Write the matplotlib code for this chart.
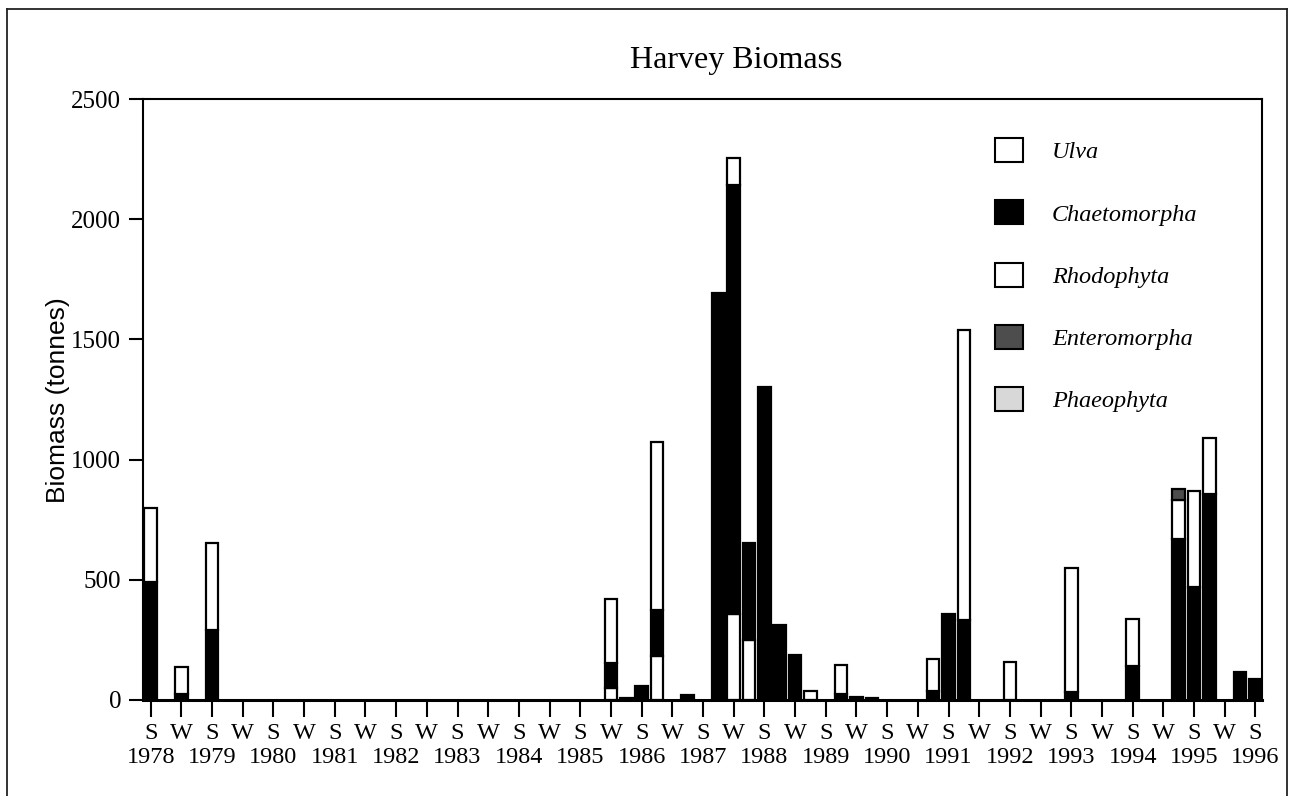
import matplotlib
matplotlib.use("Agg")
import matplotlib.pyplot as plt
from matplotlib.patches import Patch
from matplotlib.lines import Line2D
import numpy as np

# sampling times in half-year steps from summer 1978 (0 = S 1978, 1 = W 1978, ...)
sample_pos = [0, 1, 2, 15, 15.5, 16, 16.5, 17.5, 18.5, 19, 19.5, 20, 20.5, 21, 21.5,
              22.5, 23, 23.5, 25.5, 26, 26.5, 28, 30, 32, 33.5, 34, 34.5, 35.5, 36]

# biomass (tonnes) per group at each sampling time
ulva         = [0, 0, 0, 48, 0, 0, 182, 0, 0, 356, 249, 0, 0, 0, 38,
                0, 0, 0, 0, 0, 0, 155, 0, 0, 0, 0, 0, 0, 0]
chaetomorpha = [490, 22, 290, 104, 8, 58, 191, 18, 1692, 1785, 403, 1304, 311, 184, 0,
                22, 12, 5, 38, 358, 330, 0, 30, 140, 668, 470, 857, 116, 85]
rhodophyta   = [308, 116, 362, 269, 0, 0, 702, 0, 0, 114, 0, 0, 0, 0, 0,
                122, 0, 0, 132, 0, 1210, 0, 518, 194, 165, 398, 232, 0, 0]
enteromorpha = [0, 0, 0, 0, 0, 0, 0, 0, 0, 0, 0, 0, 0, 0, 0,
                0, 0, 0, 0, 0, 0, 0, 0, 0, 45, 0, 0, 0, 0]
phaeophyta   = [0, 0, 0, 0, 0, 0, 0, 0, 0, 0, 0, 0, 0, 0, 0,
                0, 0, 0, 0, 0, 0, 0, 0, 0, 0, 0, 0, 0, 0]

groups = ["Ulva", "Chaetomorpha", "Rhodophyta", "Enteromorpha", "Phaeophyta"]
series = [ulva, chaetomorpha, rhodophyta, enteromorpha, phaeophyta]
fills = ["white", "black", "white", "#4d4d4d", "#d8d8d8"]

years = list(range(1978, 1997))
yticks = [0, 500, 1000, 1500, 2000, 2500]

SERIF = "Liberation Serif"
SANS = "Liberation Sans"

fig = plt.figure(figsize=(12.91, 7.96), dpi=100)
ax = fig.add_axes([0.111, 0.121, 0.8662, 0.7543])

x = np.array(sample_pos, dtype=float)
bottom = np.zeros(len(x))
for vals, fc in zip(series, fills):
    v = np.array(vals, dtype=float)
    m = v > 0
    if m.any():
        ax.bar(x[m], v[m], width=0.41, bottom=bottom[m], color=fc,
               edgecolor="black", linewidth=1.6, zorder=2)
    bottom += v

ax.set_xlim(-0.24, 36.2)
ax.set_ylim(0, 2500)

# season ticks: S (summer) / W (winter)
nticks = 2 * (len(years) - 1) + 1
ax.set_xticks(range(nticks))
ax.set_xticklabels(["S" if i % 2 == 0 else "W" for i in range(nticks)],
                   fontfamily=SERIF, fontsize=17.5)

# year row under each summer tick
sec = ax.secondary_xaxis("bottom")
sec.set_xticks(range(0, nticks, 2))
sec.set_xticklabels([str(y) for y in years], fontfamily=SERIF, fontsize=17.5)
sec.tick_params(length=0, pad=34)
sec.spines["bottom"].set_visible(False)

ax.set_yticks(yticks)
ax.set_yticklabels([str(t) for t in yticks], fontfamily=SERIF, fontsize=18)

ax.tick_params(axis="x", direction="out", length=12, width=1.5, pad=5, colors="black")
ax.tick_params(axis="y", direction="out", length=10, width=1.5, pad=6, colors="black")

for side in ["left", "top", "right"]:
    ax.spines[side].set_linewidth(1.5)
ax.spines["bottom"].set_linewidth(2.2)
ax.spines["bottom"].set_zorder(3)

fig.text(736 / 1291, 1 - 68 / 796, "Harvey Biomass", fontfamily=SERIF,
         fontsize=23, ha="center", va="baseline")
fig.text(58 / 1291, 1 - 400 / 796, "Biomass (tonnes)", fontfamily=SANS,
         fontsize=19, rotation=90, ha="center", va="center")

handles = [Patch(facecolor=fc, edgecolor="black", linewidth=1.5) for fc in fills]
leg = ax.legend(handles, groups, loc="upper left", bbox_to_anchor=(0.751, 0.9556),
                frameon=False, borderpad=0, handlelength=1.15, handleheight=1.15,
                labelspacing=1.52, handletextpad=1.19,
                prop={"family": SERIF, "style": "italic", "size": 17.5})

# page frame around the figure
W, H = 1291.0, 796.0
frame = [((7, 7), (9, 800)), ((7, 1287), (9, 9)), ((1287, 1287), (9, 800))]
for xs, ys in frame:
    fig.add_artist(Line2D([xx / W for xx in xs], [1 - yy / H for yy in ys],
                          transform=fig.transFigure, color="#222222", linewidth=1.3))

fig.savefig("out.png", dpi=100)
